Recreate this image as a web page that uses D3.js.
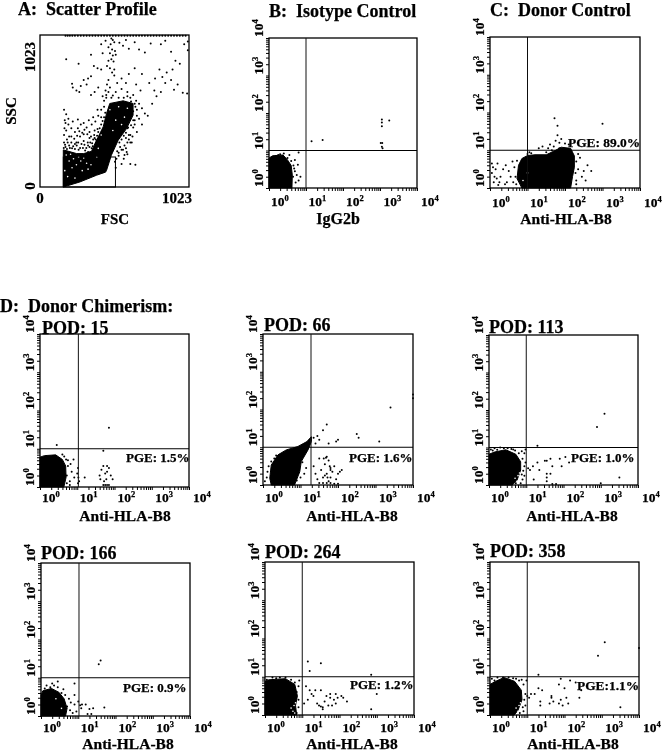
<!DOCTYPE html>
<html><head><meta charset="utf-8"><script src="https://cdnjs.cloudflare.com/ajax/libs/d3/7.8.5/d3.min.js"></script>
<style>html,body{margin:0;padding:0;background:#fff}svg{display:block}text{font-family:"Liberation Serif",serif;font-weight:700;fill:#000;stroke:#000;stroke-width:.25;white-space:pre}</style></head><body>
<script>
// ---------- values ----------
const panelTitles = ["A:  Scatter Profile","B:  Isotype Control","C:  Donor Control","POD: 15","POD: 66","POD: 113","POD: 166","POD: 264","POD: 358"];
const xTitles = ["FSC","IgG2b","Anti-HLA-B8","Anti-HLA-B8","Anti-HLA-B8","Anti-HLA-B8","Anti-HLA-B8","Anti-HLA-B8","Anti-HLA-B8"];
const pgeLabels = [null,null,"PGE: 89.0%","PGE: 1.5%","PGE: 1.6%","PGE: 1.0%","PGE: 0.9%","PGE: 1.2%","PGE:1.1%"];
const sectionTitle = "D:  Donor Chimerism:";
const logTickLabels = ["0","1","2","3","4"];
const linearTickLabels = ["0","1023"];
const linearTicks = [0,1023];
const gateX = [null,1,1,1.03,1.28,1,1.02,1,1];
const gateY = [null,1,1,1,1,1,1,1,1];
const gateA = [518,202];

const regionA = [[160,0],[274,34],[388,79],[450,100],[457,112],[490,214],[537,315],[594,393],[639,483],[639,562],[571,580],[479,562],[457,495],[434,405],[377,292],[354,240],[300,225],[251,225],[160,250]];
const regionB = [[0,0],[.62,0],[.63,.35],[.6,.6],[.5,.75],[.38,.88],[.1,.86],[0,.8]];
const regionC = [[.85,0],[2.15,0],[2.2,.3],[2.25,.55],[2.25,.85],[2.15,1.05],[1.9,1.08],[1.75,1],[1.5,.88],[1.2,.88],[1,.86],[.85,.78],[.76,.6],[.72,.25]];
const regionD1 = [[0,0],[.64,0],[.7,.25],[.69,.55],[.6,.72],[.42,.84],[.12,.82],[0,.78]];
const regionD2 = [[.22,0],[.84,0],[.98,.35],[1.02,.62],[1.2,.93],[1.29,1.15],[1.29,1.28],[1.17,1.15],[.93,1.02],[.62,.93],[.4,.8],[.22,.53],[.18,.18]];
const regionD3 = [[0,0],[.62,0],[.75,.12],[.85,.4],[.85,.62],[.72,.82],[.45,.94],[.15,.88],[0,.82]];
const regionD4 = [[0,0],[.66,0],[.7,.2],[.62,.45],[.48,.62],[.28,.72],[.05,.66],[0,.55]];
const regionD5 = [[0,0],[.85,0],[.82,.25],[.87,.5],[.8,.8],[.55,.95],[.1,.92],[0,.88]];
const regionD6 = [[0,0],[.65,0],[.75,.12],[.86,.4],[.84,.65],[.66,.88],[.38,.98],[.15,.88],[0,.8]];

const dotsA = [[175,1018],[190,1018],[205,1018],[222,1018],[240,1018],[260,1018],[280,1018],[300,1018],[320,1018],[340,1018],[360,1018],[380,1018],[400,1018],[420,1018],[440,1018],[460,1018],[480,1018],[500,1018],[520,1018],[540,1018],[560,1018],[580,1018],[600,1018],[620,1018],[640,1018],[660,1018],[680,1018],[700,1018],[720,1018],[740,1018],[760,1018],[780,1018],[800,1018],[820,1018],[840,1018],[860,1018],[880,1018],[900,1018],[920,1018],[940,1018],[960,1018],[980,1018],[1000,1018],
[1015,980],[1015,920],[490,1000],[500,990],[485,960],[510,975],[470,940],[495,925],[515,915],[480,900],[500,885],[520,890],[490,860],[505,845],[470,850],[480,800],[495,770],[510,790],[470,720],[460,690],[480,670],[450,650],[455,620],[420,960],[450,985],[430,900],[545,970],[570,950],[590,990],[610,930],[650,975],[680,925],[720,905],[760,965],[830,960],[860,985],[900,910],[930,850],[960,830],[990,960],
[180,860],[265,830],[350,890],[370,815],[395,800],[420,790],[460,815],[510,750],[350,745],[330,730],[300,720],[280,680],[250,650],[220,695],[225,670],[270,640],[320,690],[350,620],[375,640],[400,670],[430,610],[490,600],[520,640],[560,660],[600,640],[620,600],[640,620],[660,580],[700,530],[720,495],[740,480],[770,560],[800,610],[830,640],[860,700],[900,720],[920,655],[945,690],[980,635],[1010,630],[870,770],[820,790],[790,730],[750,700],[700,760],[650,800],[610,760],[590,700],[560,730],[530,700],[910,790],[840,740],[785,650],[690,650],[660,690],[455,600],[470,640],[500,615],[540,600],[575,600],[600,610],[625,575],[650,560],[665,520],[680,560],
[165,520],[170,450],[180,490],[195,460],[165,350],[180,380],[195,420],[215,340],[240,370],[260,395],[280,420],[300,355],[320,400],[340,370],[355,420],[380,440],[400,480],[250,300],[275,340],[300,310],[330,280],[350,340],[165,300],[175,270],[200,280],[220,260],[240,290],[265,250],[310,245],[330,235],[355,260],[375,330],[395,390],[415,330],[440,540],[420,470],[375,380],
[163,262],[172,285],[185,255],[190,300],[205,262],[215,300],[228,275],[240,255],[252,280],[262,300],[275,262],[285,290],[295,262],[305,285],[318,262],[328,300],[340,270],[345,300],[358,295],[365,320],[372,350],[382,320],[392,345],[400,370],[410,395],[420,420],[430,445],[440,470],[448,500],[362,275],[340,330],[325,355],[305,385],[290,365],[270,375],[255,345],[235,325],[215,395],[200,340],[185,320],[168,395],[175,430],[225,440],[260,455],[300,430],[335,450],[365,470],[395,520],[420,520],[440,580],
[545,300],[560,320],[575,345],[590,365],[605,400],[625,415],[640,400],[650,450],[665,480],[580,280],[600,300],[570,250],[550,270],[540,210],[525,190],[515,170],[530,240],[595,235],[580,215],[640,510],[655,540],[620,350],[610,320],[635,340],
[590,330],[610,350],[630,300],[650,420],[665,370],[700,420],[560,250],[590,260],[620,300],[600,220],[575,190],[560,155],[620,155],[655,150],[600,395],[640,450],[680,460],[540,230],[520,130],[500,290]];
const holesA = [[220,130],[250,150],[280,175],[320,160],[200,175],[230,190],[300,195],[390,200],[350,150],[240,60],[290,110],[520,450],[560,420],[580,470],[500,380],[600,530],[540,540],[480,520],[420,350],[400,260],[180,215],[210,220],[265,200],[170,110],[190,70],[330,120]];
const dotsB = [[.65,.3],[.7,.45],[.72,.15],[.66,.6],[.6,.72],[.5,.8],[.55,.88],[.4,.92],[.3,.9],[.75,.35],[.8,.2],[.68,.52],[.85,.3],[.7,.75],[.78,.62],[.25,.88],[.8,.95],[3.05,1.75],[3.05,1.65],[3.05,1.83],[3.02,1.2],[3.05,1.1],[3.06,1.2],[3.07,1.06],[1.15,1.25],[1.45,1.28],[3.25,1.8]];
const dotsC = [[.05,.4],[.08,.55],[.12,.3],[.15,.5],[.2,.65],[.1,.15],[.25,.15],[.28,.3],[.42,.6],[.5,.45],[.55,.3],[.45,.15],[.6,.7],[.65,.55],[.68,.3],[.7,.1],[.62,.15],[.05,.65],[.18,.25],[.22,.08],[.4,.1],[.72,.72],[.35,.5],[1.05,.95],[1,.9],[1.4,1.1],[1.6,1.15],[1.7,1.1],[1.75,1.25],[1.8,1.4],[1.85,1.2],[1.9,1.3],[2,1.18],[1.55,1.05],[1.3,1.05],[1.72,1.85],[3,1.7],[1.8,1.65],[1.85,1.05],[2.1,1.15],[2.3,.7],[2.35,.5],[2.4,.8],[2.45,.3],[2.5,.45],[2.6,.6],[2.7,.45],[2.55,.2],[2.3,.2],[2.35,.9],[2.28,.4],[2.3,.1],[1.5,.95],[1.65,1],[1.1,.92]];
const dotsD1 = [[.72,.3],[.75,.55],[.8,.15],[.7,.72],[.65,.8],[.6,.85],[.75,.7],[.85,.4],[.82,.6],[.9,.72],[.8,.05],[.72,.1],[.92,.25],[1.02,.1],[1,.35],[1.02,.5],[1.03,.25],[1.05,.15],[1.6,.3],[1.65,.45],[1.7,.55],[1.75,.35],[1.8,.4],[1.78,.2],[1.85,.5],[1.9,.3],[1.8,.55],[1.62,.2],[1.72,.15],[1.95,.2],[1.7,.95],[1.2,.25],[1.7,.05],[1.75,.05],[1.8,.05],[1.85,.05],[.45,1.1],[1.85,1.55]];
const dotsD2 = [[1.35,1.25],[1.4,1.1],[1.45,1.3],[1.5,1.2],[1.7,1.6],[1.6,1.45],[1.75,1.1],[1.95,1.15],[2,1.2],[2.5,1.35],[2.55,1.25],[3.1,1.15],[3.4,2.05],[4,2.4],[4,2.3],[1.35,.5],[1.4,.3],[1.45,.15],[1.5,.7],[1.55,.4],[1.6,.2],[1.65,.55],[1.7,.75],[1.7,.3],[1.75,.1],[1.62,.7],[1.68,.72],[1.75,.65],[1.8,.45],[1.72,.2],[1.8,.2],[1.85,.35],[1.9,.5],[1.95,.15],[2,.3],[2.05,.35],[2.1,.4],[1.8,.4],[1.65,.25],[1.78,.5],[1.5,.05],[1.6,.05],[1.7,.05],[1.8,.05],[1.9,.03],[2,.03],[.95,.7],[1.05,.6],[1.1,.85],[1,.2],[.9,.12],[1.15,.45],[1.1,.3],[.12,.35],[.1,.2],[.15,.5],[.22,.62],[.05,.1],[.3,.7],[.35,.78]];
const dotsD3 = [[.05,.95],[.15,.98],[.3,1],[.5,.98],[.7,.92],[.8,.85],[.9,.7],[.95,.5],[.95,.25],[.9,.15],[.85,.05],[.75,.3],[.72,.05],[.95,.85],[.65,.95],[.1,.92],[.22,.94],[.4,.98],[.6,.96],[.88,.9],[.98,.95],[.92,.38],[.98,.6],[.88,.28],[1.1,.4],[1.05,.45],[1.18,.5],[1.3,.6],[1.35,.4],[1.5,.65],[1.55,.3],[1.55,.2],[1.65,.7],[1.7,.5],[1.55,.65],[1.9,.7],[1.95,.5],[2.05,.75],[2.15,.6],[1.55,.1],[1.65,.3],[1.2,.15],[3.5,.2],[1.3,1.05],[2.9,1.55],[3.1,1.9],[3,.05],[1.7,.03],[1.8,.03]];
const dotsD4 = [[.7,.25],[.75,.45],[.65,.55],[.6,.7],[.55,.6],[.45,.75],[.3,.85],[.35,.8],[.15,.8],[.25,.75],[.1,.72],[.8,.35],[.9,.55],[.95,.12],[.9,.3],[.78,.15],[.85,.08],[.45,.9],[.9,.85],[1,.38],[1.05,.28],[1.1,.3],[1.08,.2],[1.2,.3],[1.3,.18],[1.4,.2],[1.7,.22],[1.25,.05],[1.35,.05],[1.55,1.35],[1.6,1.45]];
const dotsD5 = [[1.1,.75],[1.2,.65],[1.25,.55],[1.15,.4],[1.3,.5],[1.35,.65],[1.4,.3],[1.45,.25],[1.5,.22],[1.55,.2],[1.6,.35],[1.65,.5],[1.7,.25],[1.75,.45],[1.75,.55],[1.8,.25],[1.85,.4],[1.9,.3],[1.95,.45],[1.9,.55],[2.05,.5],[2.1,.45],[2.2,.35],[1.05,.3],[1.55,.15],[1.5,.65],[2.85,.15],[3,.55],[1.15,1.4],[1.5,1.35],[1.2,1.15],[2.85,1.05],[.05,.92],[.2,.98],[.4,.98],[.7,.92],[.8,.85],[.9,.75],[.85,.6],[.9,.4],[.9,.2],[.85,.05],[.3,.96],[.55,.98],[.92,.9]];
const dotsD6 = [[1,.5],[1.05,.45],[1.1,.55],[1.2,.55],[1.3,.7],[1.4,.65],[1.35,.35],[1.35,.25],[1.65,.45],[1.65,.5],[1.7,.35],[1.6,.3],[1.9,.95],[1.85,.8],[1.9,.4],[1.85,.3],[1.95,.25],[2.1,.3],[2.05,.45],[2.3,.85],[2.15,.9],[2,.7],[2.4,.45],[2.45,.65],[3.5,.2],[2.9,1.55],[3.08,1.9],[1.3,1.05],[4,1.75],[.7,.95],[.9,.8],[.95,.55],[.95,.25],[.05,.95],[.2,.98],[.5,.98],[.85,.92],[.9,.1],[.12,.9],[.35,.98],[.62,.96],[.78,.9],[.98,.9],[.92,.4],[.88,.2],[.8,.05]];
const holesLow = [[.75,.1],[.78,.25],[.7,.18],[.8,.05],[.82,.32]];

const regions = [regionA,regionB,regionC,regionD1,regionD2,regionD3,regionD4,regionD5,regionD6];
const dots = [dotsA,dotsB,dotsC,dotsD1,dotsD2,dotsD3,dotsD4,dotsD5,dotsD6];
const holes = [holesA,[],[[1.24,.93],[1.42,.93],[1,.4],[.88,.2]],[],[],holesLow,[[.4,.45],[.55,.2]],holesLow,holesLow];

// ---------- layout ----------
const frames = [[40,35,149,152],[269,38,148,150],[490,37,150,151],[40,334,149,153],[263,334,150,151],[489,335,149,150],[41,563,149,153],[265,562,149,153],[490,562,149,153]];
const titlePos = [[18,15],[269,17],[490,16],[42,334],[264,331],[489,333],[41,559],[265,558],[490,557]];
const xTitlePos = [[115,224],[338,224],[566,224],[125,521],[352,521],[572,521],[128,749],[352,749],[573,749]];
const pgePos = [null,null,[568,147],[126,462],[349,462],[571,462],[123,692],[350,689],[577,690]];
const tickGap = [0,18,19,15,17,17,16,17,17];

const W=662,H=752;
const svg=d3.select("body").append("svg").attr("width",W).attr("height",H);
svg.append("defs").append("filter").attr("id","soft").attr("x",0).attr("y",0).attr("width","100%").attr("height","100%")
  .append("feGaussianBlur").attr("stdDeviation",0.4);
const root=svg.append("g").attr("filter","url(#soft)");
root.append("rect").attr("width",W).attr("height",H).attr("fill","#fff");

root.append("text").attr("x",0).attr("y",312).attr("font-size",18).text(sectionTitle);

frames.forEach((f,i)=>{
  const [fx,fy,fw,fh]=f, isLin=i===0;
  const x=isLin?d3.scaleLinear([0,1023],[0,fw]):d3.scaleLog([1,1e4],[0,fw]);
  const y=isLin?d3.scaleLinear([0,1023],[fh,0]):d3.scaleLog([1,1e4],[fh,0]);
  const px=v=>isLin?x(v):x(Math.pow(10,v)), py=v=>isLin?y(v):y(Math.pow(10,v));
  const g=root.append("g").attr("transform",`translate(${fx},${fy})`);
  const clip="c"+i;
  svg.select("defs").append("clipPath").attr("id",clip).append("rect").attr("x",-1).attr("y",-1).attr("width",fw+2).attr("height",fh+2);
  const plot=g.append("g").attr("clip-path",`url(#${clip})`);
  const area=d3.line().x(d=>px(d[0])).y(d=>py(d[1])).curve(d3.curveLinearClosed);
  plot.append("path").datum(regions[i]).attr("d",area).attr("fill","#000").attr("stroke","#000").attr("stroke-width",1);
  plot.selectAll("circle.h").data(holes[i]).join("circle").attr("class","h").attr("cx",d=>px(d[0])).attr("cy",d=>py(d[1])).attr("r",.8).attr("fill","#fff");
  plot.selectAll("circle.d").data(dots[i]).join("circle").attr("class","d").attr("cx",d=>px(d[0])).attr("cy",d=>py(d[1])).attr("r",1).attr("fill","#000");

  g.append("rect").attr("width",fw).attr("height",fh).attr("fill","none").attr("stroke","#000").attr("stroke-width",1.3);

  if(isLin){
    g.append("rect").attr("x",x(160)).attr("y",py(gateA[1])).attr("width",x(gateA[0])-x(160)).attr("height",py(0)-py(gateA[1])).attr("fill","none").attr("stroke","#000").attr("stroke-width",1);
    linearTickLabels.forEach((t,k)=>{
      g.append("text").attr("x",k===0?x(0):x(linearTicks[k])-12).attr("y",fh+16).attr("text-anchor","middle").attr("font-size",15).text(t);
      const yy=k===0?y(linearTicks[k])-1:y(linearTicks[k])+22;
      g.append("text").attr("transform",`translate(-5,${yy}) rotate(-90)`).attr("text-anchor","middle").attr("font-size",15).text(t);
    });
    g.append("text").attr("transform",`translate(-24,${fh*0.5}) rotate(-90)`).attr("text-anchor","middle").attr("font-size",15).text("SSC");
  } else {
    const minors=[]; for(let d=0;d<4;d++) for(let k=1;k<10;k++) minors.push(k*Math.pow(10,d)); minors.push(1e4);
    const ax=d3.axisBottom(x).tickValues(minors).tickSize(3).tickFormat("");
    const ay=d3.axisLeft(y).tickValues(minors).tickSize(3).tickFormat("");
    const gx=g.append("g").attr("transform",`translate(0,${fh})`).call(ax);
    const gy=g.append("g").call(ay);
    [gx,gy].forEach(s=>{s.select(".domain").remove();s.selectAll("line").attr("stroke","#000").attr("stroke-width",1);});
    logTickLabels.forEach((t,k)=>{
      const v=Math.pow(10,+t);
      const tx=g.append("text").attr("x",x(v)+2+k*.5).attr("y",fh+tickGap[i]).attr("font-size",13.5);
      tx.append("tspan").text("10");
      tx.append("tspan").attr("font-size",8.5).attr("dy",-5).text(t);
      const ty=g.append("text").attr("transform",`translate(-6,${y(v)-1}) rotate(-90)`).attr("font-size",13.5);
      ty.append("tspan").text("10");
      ty.append("tspan").attr("font-size",8.5).attr("dy",-5).text(t);
    });
    g.append("line").attr("x1",px(gateX[i])).attr("x2",px(gateX[i])).attr("y1",0).attr("y2",fh).attr("stroke","#111").attr("stroke-width",1);
    g.append("line").attr("x1",0).attr("x2",fw).attr("y1",py(gateY[i])).attr("y2",py(gateY[i])).attr("stroke","#000").attr("stroke-width",1.2);
  }
  root.append("text").attr("x",titlePos[i][0]).attr("y",titlePos[i][1]).attr("font-size",18).text(panelTitles[i]);
  root.append("text").attr("x",xTitlePos[i][0]).attr("y",xTitlePos[i][1]).attr("text-anchor","middle").attr("font-size",i===0?15:(i===1?16:15.5)).text(xTitles[i]);
  if(pgeLabels[i]) root.append("text").attr("x",pgePos[i][0]).attr("y",pgePos[i][1]).attr("font-size",i===2||i===8?13.4:13).text(pgeLabels[i]);
});
</script></body></html>
